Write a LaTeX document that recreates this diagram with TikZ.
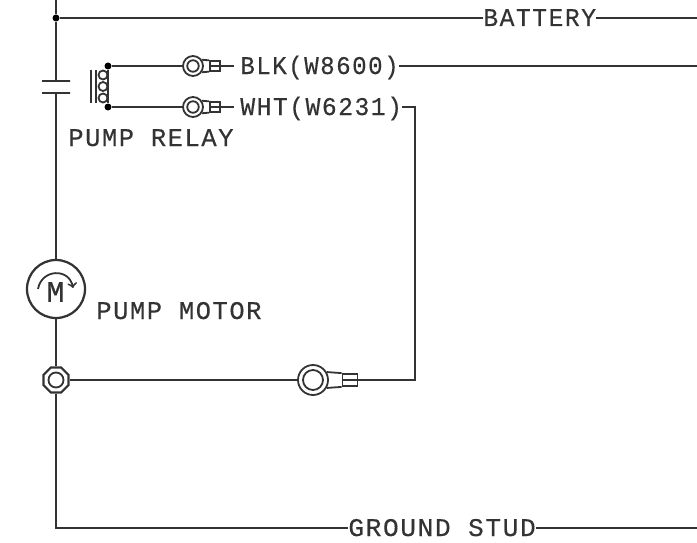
\documentclass[tikz,border=0pt]{standalone}
\usepackage{fontspec}
\newfontfamily\cadfont[LetterSpace=6,FakeBold=0.3]{Liberation Mono}
\usetikzlibrary{shapes.geometric}
\begin{document}
\begin{tikzpicture}[x=0.2mm,y=-0.2mm]
	\tikzstyle{wire}=[draw=black!80, line width=0.45mm]
	\tikzstyle{thin wire}=[draw=black!80, line width=0.36mm]
	\tikzstyle{label}=[font=\cadfont\fontsize{14.5pt}{14.5pt}\selectfont, text=black!80, inner sep=0pt, anchor=base west]
	\tikzstyle{wire label}=[label, inner ysep=1mm]
	\tikzstyle{junction}=[circle, fill=black, inner sep=0pt, minimum size=1.4mm]
	\tikzstyle{plate}=[thin wire, inner sep=0pt, minimum width=5.6mm, minimum height=0mm]
	\tikzstyle{coil}=[circle, thin wire, inner sep=0pt, minimum size=1.8mm]
	\tikzstyle{small ring}=[circle, thin wire, inner sep=0pt, minimum size=4mm]
	\tikzstyle{small eye}=[circle, thin wire, inner sep=0pt, minimum size=2.3mm]
	\tikzstyle{small barrel}=[rectangle, thin wire, inner sep=0pt, minimum width=2mm, minimum height=1.9mm]
	\tikzstyle{big ring}=[circle, thin wire, inner sep=0pt, minimum size=6mm]
	\tikzstyle{big eye}=[circle, thin wire, inner sep=0pt, minimum size=4mm]
	\tikzstyle{big barrel}=[rectangle, thin wire, inner sep=0pt, minimum width=3mm, minimum height=2.4mm]
	\useasboundingbox (0,0) rectangle (697,542);
	% supply side
	\coordinate (top) at (56,0);
	\node [junction] (feed) at (56,18) {};
	\node [wire label, xscale=0.97] (battery) at (483,26) {BATTERY};
	\coordinate (batteryend) at (697,18);
	\node [plate] (c1) at (56,81) {};
	\node [plate] (c2) at (56,93) {};
	% relay
	\node [junction] (r1) at (108,66) {};
	\node [junction] (r2) at (108,107) {};
	\node [coil] (k1) at (103,75) {};
	\node [coil] (k2) at (103,86.5) {};
	\node [coil] (k3) at (103,98) {};
	\coordinate (p1) at (91,70);
	\coordinate (p2) at (91,103);
	\coordinate (p3) at (96,70);
	\coordinate (p4) at (96,103);
	\node [label] (relay) at (68,146) {PUMP RELAY};
	% lugs on the relay wires
	\foreach \i/\y in {1/66,2/107} {
		\node [small ring] (a\i) at (193,\y) {};
		\node [small eye] (e\i) at (193,\y) {};
		\node [small barrel] (b\i) at (215,\y) {};
		\coordinate (t\i) at (234,\y);
		\draw [thin wire] (a\i.35) -- (b\i.north west);
		\draw [thin wire] (a\i.-35) -- (b\i.south west);
		\draw [thin wire] (b\i.west) -- (b\i.east);
		\draw [wire] (r\i) -- (a\i);
		\draw [wire] (b\i) -- (t\i);
	}
	\node [wire label, xscale=0.95] (blk) at (240,74) {BLK(W8600)};
	\node [wire label, xscale=0.97] (wht) at (240,115) {WHT(W6231)};
	\coordinate (blkend) at (697,66);
	\coordinate (bend) at (415,107);
	\coordinate (corner) at (415,380);
	% motor and stud
	\node [circle, wire, inner sep=0pt, minimum size=11.6mm] (motor) at (56,289) {};
	\node [font=\cadfont\fontsize{17pt}{17pt}\selectfont, text=black!80, inner sep=0pt] (m) at (55.5,292) {M};
	\coordinate (ma) at (38,289);
	\coordinate (mb) at (73,288);
	\node [label] (motorlabel) at (96,319) {PUMP MOTOR};
	\node [regular polygon, regular polygon sides=8, wire, inner sep=0pt, minimum size=5.4mm] (stud) at (56,380) {};
	\node [circle, thin wire, inner sep=0pt, minimum size=3mm] (hole) at (56,380) {};
	% large lug
	\node [big ring] (lug) at (313,380) {};
	\node [big eye] (lughole) at (313,380) {};
	\node [big barrel] (barrel) at (350,380) {};
	% ground
	\coordinate (corner2) at (56,528);
	\node [wire label, xscale=1.03] (ground) at (348,536) {GROUND STUD};
	\coordinate (groundend) at (697,528);
	\path[wire] (top) -- (feed);
	\path[wire] (feed) -- (c1.center);
	\path[wire] (feed) -- (battery.west |- feed);
	\path[wire] (battery.east |- batteryend) -- (batteryend);
	\path[wire] (c2.center) -- (motor);
	\path[wire] (r1) -- (r2);
	\path[thin wire] (p1) -- (p2);
	\path[thin wire] (p3) -- (p4);
	\path[wire] (blk.east |- blkend) -- (blkend);
	\path[wire] (wht.east |- bend) -- (bend) -- (corner) -- (barrel);
	\path[thin wire, ->] (ma) to [out=80, in=100, looseness=1.5] (mb);
	\path[wire] (motor) -- (stud);
	\path[wire] (stud) -- (lug);
	\path[thin wire] (lug.30) -- (barrel.north west);
	\path[thin wire] (lug.-30) -- (barrel.south west);
	\path[thin wire] (barrel.west) -- (barrel.east);
	\path[wire] (stud) -- (corner2) -- (ground.west |- corner2);
	\path[wire] (ground.east |- groundend) -- (groundend);
\end{tikzpicture}
\end{document}
